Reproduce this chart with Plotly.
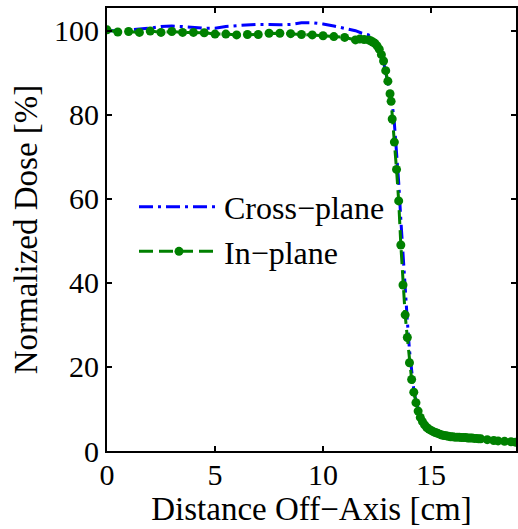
import plotly.graph_objects as go

# Cross-plane profile (blue, dash-dot)
cross_x = [0.0, 0.5, 1.0, 1.5, 2.0, 2.5, 3.0, 3.5, 4.0, 4.5, 5.0, 5.5, 6.0, 6.5, 7.0, 7.5,
           8.0, 8.5, 9.0, 9.5, 10.0, 10.5, 11.0, 11.5, 11.8, 12.1, 12.4, 12.6, 12.75, 12.9,
           13.0, 13.1, 13.2, 13.3, 13.4, 13.5, 13.6, 13.7, 13.8, 13.9, 14.0, 14.1, 14.2,
           14.3, 14.4, 14.5, 14.7, 15.0, 15.5, 16.0, 16.5, 17.0, 17.5, 18.0, 18.5, 19.0]
cross_y = [100.0, 100.0, 100.2, 100.4, 100.6, 101.0, 101.1, 101.0, 100.8, 100.6, 100.6, 101.0,
           101.2, 101.4, 101.5, 101.5, 101.4, 101.5, 101.9, 101.9, 101.6, 101.1, 100.6, 100.0,
           99.4, 99.0, 97.0, 95.5, 93.8, 90.2, 88.0, 85.5, 82.7, 78.0, 72.0, 64.0, 55.0, 46.0,
           38.0, 31.0, 24.0, 18.5, 14.5, 11.8, 9.8, 8.2, 6.3, 4.9, 3.9, 3.4, 3.2, 3.0, 2.8,
           2.5, 2.3, 2.1]

# In-plane profile (green, dashed with dots)
in_x = [0.0, 0.5, 1.0, 1.5, 2.0, 2.5, 3.0, 3.5, 4.0, 4.5, 5.0, 5.5, 6.0, 6.5, 7.0, 7.5, 8.0,
        8.5, 9.0, 9.5, 10.0, 10.5, 11.0, 11.5, 11.7, 11.9, 12.1, 12.2, 12.3, 12.4, 12.5, 12.6,
        12.7, 12.8, 12.9, 13.0, 13.1, 13.15, 13.2, 13.3, 13.4, 13.5, 13.6, 13.7, 13.8, 13.9,
        14.0, 14.1, 14.2, 14.3, 14.4, 14.5, 14.6, 14.7, 14.8, 14.9, 15.0, 15.1, 15.2, 15.3,
        15.4, 15.5, 15.6, 15.7, 15.8, 15.9, 16.0, 16.1, 16.2, 16.3, 16.4, 16.5, 16.6, 16.7,
        16.8, 16.9, 17.0, 17.1, 17.2, 17.3, 17.6, 17.9, 18.1, 18.4, 18.7, 18.9]
in_y = [100.2, 99.7, 99.8, 99.6, 99.9, 99.6, 99.8, 99.6, 99.6, 99.5, 99.2, 99.2, 99.0, 99.1,
        99.1, 99.4, 99.4, 99.3, 99.1, 99.0, 98.8, 98.6, 98.4, 97.8, 98.0, 97.9, 97.8, 97.6,
        97.3, 97.0, 96.4, 95.6, 94.3, 92.8, 90.5, 88.0, 85.0, 83.2, 79.0, 73.5, 67.0, 59.5,
        49.0, 39.5, 32.4, 27.0, 21.0, 17.0, 14.0, 11.5, 9.5, 8.0, 7.0, 6.2, 5.6, 5.2, 4.9,
        4.6, 4.4, 4.2, 4.0, 3.8, 3.7, 3.6, 3.5, 3.4, 3.4, 3.3, 3.3, 3.3, 3.2, 3.2, 3.2, 3.1,
        3.1, 3.1, 3.0, 3.0, 2.9, 2.9, 2.7, 2.5, 2.4, 2.3, 2.2, 2.1]

x_ticks = [0, 5, 10, 15]
y_ticks = [0, 20, 40, 60, 80, 100]

FONT = "Liberation Serif, Times New Roman, serif"

fig = go.Figure()
fig.add_trace(go.Scatter(
    x=cross_x, y=cross_y, mode="lines", name="Cross\u2212plane",
    line=dict(color="#0000FF", width=3, dash="14px,5px,3px,5px"),
))
fig.add_trace(go.Scatter(
    x=in_x, y=in_y, mode="lines+markers", name="In\u2212plane",
    line=dict(color="#008000", width=3, dash="14px,6px"),
    marker=dict(color="#008000", size=9, symbol="circle"),
))

axis_common = dict(
    showline=True, linecolor="black", linewidth=2, mirror="ticks",
    ticks="inside", ticklen=5, tickwidth=1.5, tickcolor="black",
    showgrid=False, zeroline=False,
    tickfont=dict(family=FONT, size=30, color="black"),
)

fig.update_layout(
    width=518, height=529,
    margin=dict(l=107, r=0, t=8, b=78),
    paper_bgcolor="white", plot_bgcolor="white",
    font=dict(family=FONT, color="black"),
    xaxis=dict(range=[0, 18.93], tickvals=x_ticks, ticklabelstandoff=-4,
               title=dict(text="Distance Off\u2212Axis [cm]", font=dict(family=FONT, size=33), standoff=0),
               **axis_common),
    yaxis=dict(range=[0, 105.4], tickvals=y_ticks,
               title=dict(text="Normalized Dose [%]", font=dict(family=FONT, size=33), standoff=6),
               **axis_common),
    legend=dict(x=0.066, y=0.613, xanchor="left", yanchor="top",
                bgcolor="rgba(0,0,0,0)", borderwidth=0,
                font=dict(family=FONT, size=32, color="black"),
                itemwidth=80, tracegroupgap=0),
    showlegend=True,
)

fig.write_html("out.html")
